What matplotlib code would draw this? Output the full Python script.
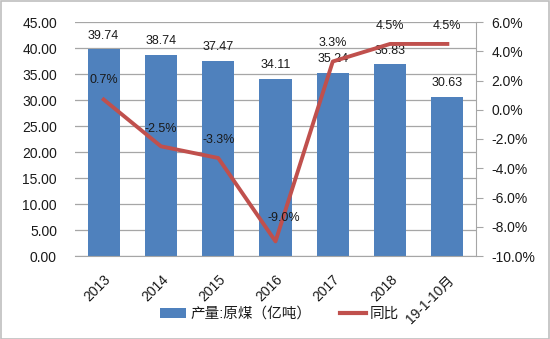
import matplotlib.pyplot as plt
from matplotlib.lines import Line2D
from matplotlib.patches import Patch, Rectangle

plt.rcParams['font.family'] = ['Liberation Sans', 'Noto Sans CJK SC', 'DejaVu Sans']

categories = ['2013', '2014', '2015', '2016', '2017', '2018', '19-1-10月']
output = [39.74, 38.74, 37.47, 34.11, 35.24, 36.83, 30.63]
yoy = [0.7, -2.5, -3.3, -9.0, 3.3, 4.5, 4.5]
left_ticks = [0, 5, 10, 15, 20, 25, 30, 35, 40, 45]
right_ticks = [-10, -8, -6, -4, -2, 0, 2, 4, 6]

bar_color = '#4F81BD'
line_color = '#C0504D'
grid_color = '#A6A6A6'
text_color = '#1a1a1a'

fig = plt.figure(figsize=(5.5, 3.39), dpi=100)
fig.patches.append(Rectangle((0.001, 0.001), 0.998, 0.997, transform=fig.transFigure,
                             fill=False, edgecolor='#BFBFBF', linewidth=1.2))
ax = fig.add_axes([75 / 550, 1 - 256 / 339, (476 - 75) / 550, (256 - 22) / 339])
x = list(range(len(categories)))

ax.set_ylim(0, 45)
ax.set_xlim(-0.5, len(categories) - 0.5)
ax.set_yticks(left_ticks)
ax.set_yticklabels([f'{v:.2f}' for v in left_ticks], fontsize=10, color=text_color)
ax.grid(axis='y', color=grid_color, linewidth=0.9)
ax.set_axisbelow(True)
for s in ['top', 'right', 'left']:
    ax.spines[s].set_visible(False)
ax.spines['bottom'].set_color(grid_color)
ax.tick_params(axis='y', length=0, pad=13)
ax.tick_params(axis='x', length=0, pad=12)

ax.bar(x, output, width=0.56, color=bar_color, zorder=2)
for xi, v in zip(x, output):
    ax.text(xi, v + 1.5, f'{v:.2f}', ha='center', va='bottom', fontsize=9,
            color=text_color, zorder=5)

ax.set_xticks(x)
ax.set_xticklabels(categories, rotation=45, ha='right', rotation_mode='anchor',
                   fontsize=10, color=text_color)

ax2 = ax.twinx()
ax2.set_ylim(-10, 6)
ax2.set_yticks(right_ticks)
ax2.set_yticklabels([f'{v:.1f}%' for v in right_ticks], fontsize=10, color=text_color)
for s in ['top', 'left', 'bottom']:
    ax2.spines[s].set_visible(False)
ax2.spines['right'].set_color(grid_color)
ax2.tick_params(axis='y', length=5, color=grid_color, direction='out', pad=6)

ax2.plot(x, yoy, color=line_color, linewidth=2.8, zorder=3, solid_joinstyle='round')
offsets = [(0, 0.9), (0, 0.8), (0, 0.85), (0.15, 1.2), (0, 0.85), (0, 0.85), (0, 0.85)]
for xi, v, (dx, dy) in zip(x, yoy, offsets):
    ax2.text(xi + dx, v + dy, f'{v:.1f}%', ha='center', va='bottom', fontsize=9,
             color=text_color, zorder=5)

handles = [Patch(facecolor=bar_color, edgecolor='none'),
           Line2D([0], [0], color=line_color, linewidth=3)]
fig.legend(handles, ['产量:原煤（亿吨）', '同比'], loc='center left', ncol=2,
           bbox_to_anchor=(150 / 550, 1 - 314 / 339), frameon=False, fontsize=10.5,
           handlelength=1.8, columnspacing=1.9, handletextpad=0.3,
           borderpad=0.2, labelcolor=text_color)

fig.savefig('out.png', dpi=100)
